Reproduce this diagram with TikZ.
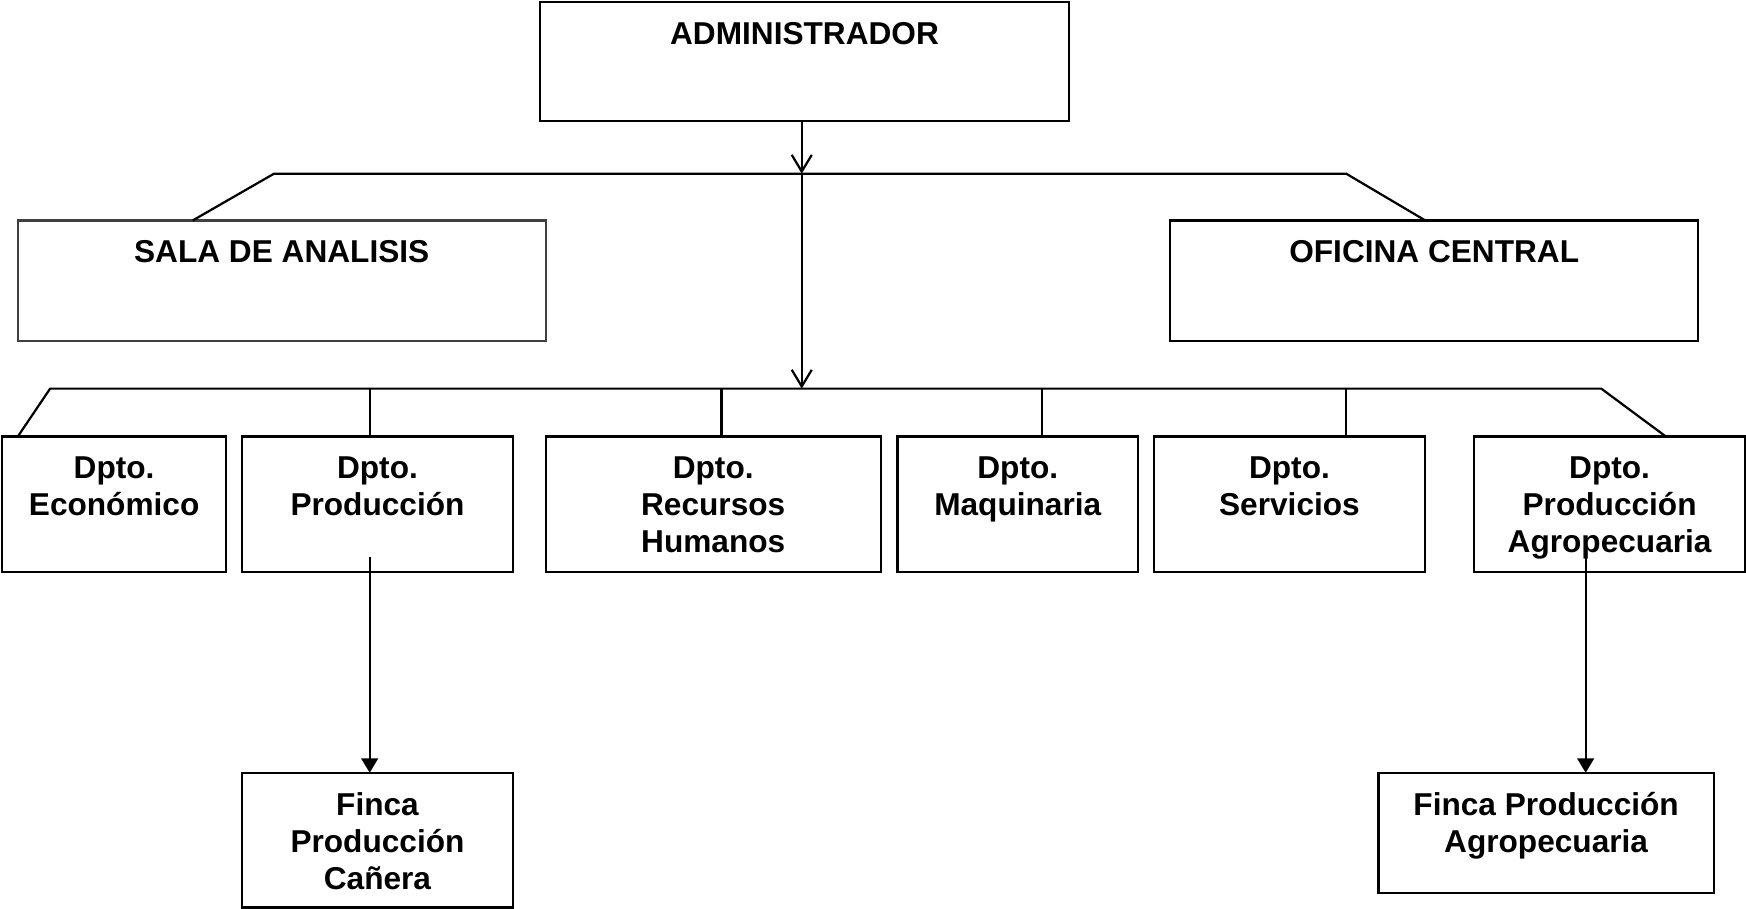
\documentclass[tikz,border=0pt]{standalone}
\usepackage{fontspec}
\setmainfont{Liberation Sans}
\usetikzlibrary{positioning}
\usetikzlibrary{arrows.meta}
\usetikzlibrary{calc}

% text set at the top of a box of given width and height
\newcommand{\orgtext}[3]{\parbox[c][#2][t]{#1}{\centering\rule{0pt}{19pt}#3}}

\begin{document}
\begin{tikzpicture}[node distance=0pt,outer sep=0pt,inner sep=0pt,line width=1pt,
  orgbox/.style={draw, fill=white, font=\fontsize{14.2}{16.6}\selectfont\bfseries},
  opentip/.style={-{Straight Barb[length=7.5pt,width=9pt]}},
  filltip/.style={-{Triangle[length=6.5pt,width=7.5pt]}}]

\useasboundingbox (0,0) rectangle (784pt,-408pt);

% Top
\node [orgbox, anchor=north west] (adm) at (242.5pt,-1pt) {\orgtext{237.5pt}{53.5pt}{ADMINISTRADOR}};

% Row 1
\node [orgbox, draw=black!75, anchor=north west] (sala) at (8pt,-99pt) {\orgtext{237pt}{54pt}{SALA DE ANALISIS}};
\node [orgbox, anchor=north west] (ofi) at (525.5pt,-99pt) {\orgtext{237pt}{54pt}{OFICINA CENTRAL}};

% Row 2
\node [orgbox, anchor=north west] (eco) at (1pt,-196pt) {\orgtext{100.5pt}{61pt}{Dpto.\\Económico}};
\node [orgbox, right=7pt of eco] (prod) {\orgtext{122pt}{61pt}{Dpto.\\Producción}};
\node [orgbox, right=14.5pt of prod] (rrhh) {\orgtext{150.5pt}{61pt}{Dpto.\\Recursos\\Humanos}};
\node [orgbox, right=7.5pt of rrhh] (maq) {\orgtext{108pt}{61pt}{Dpto.\\Maquinaria}};
\node [orgbox, right=7pt of maq] (serv) {\orgtext{122pt}{61pt}{Dpto.\\Servicios}};
\node [orgbox, right=22pt of serv] (agro) {\orgtext{121.5pt}{61pt}{Dpto.\\Producción\\Agropecuaria}};

% Row 3
\node [orgbox, anchor=north west] (fincaC) at (108.5pt,-347pt) {\orgtext{122pt}{60.5pt}{Finca\\Producción\\Cañera}};
\node [orgbox, anchor=north west] (fincaA) at (619pt,-347pt) {\orgtext{150.5pt}{54pt}{Finca Producción\\Agropecuaria}};

% Bars
\coordinate (bar1) at (360pt,-78pt);
\coordinate (bar2) at (360pt,-174.5pt);
\coordinate (b1l) at (123pt,-78pt);
\coordinate (b1r) at (604.5pt,-78pt);
\coordinate (b2l) at (22.5pt,-174.5pt);
\coordinate (b2r) at (719pt,-174.5pt);

\draw [opentip] (bar1 |- adm.south) -- (bar1);
\draw [opentip] (bar1) -- (bar2);
\draw ($(sala.north west)+(78.5pt,0)$) -- (b1l) -- (b1r) -- ($(ofi.north west)+(114.5pt,0)$);
\draw ($(eco.north west)+(7pt,0)$) -- (b2l) -- (b2r) -- ($(agro.north)+(25.25pt,0)$);

\foreach \dept/\x in {prod/166pt, rrhh/324pt, maq/468pt, serv/604.5pt} {
  \coordinate (j\dept) at (\x,-174.5pt);
  \draw (j\dept) -- (j\dept |- \dept.north);
}

% Fincas
\coordinate (pFrom) at (166pt,-250pt);
\coordinate (aFrom) at (712pt,-250pt);
\draw [filltip] (pFrom) -- (pFrom |- fincaC.north);
\draw [filltip] (aFrom) -- (aFrom |- fincaA.north);

\end{tikzpicture}
\end{document}
